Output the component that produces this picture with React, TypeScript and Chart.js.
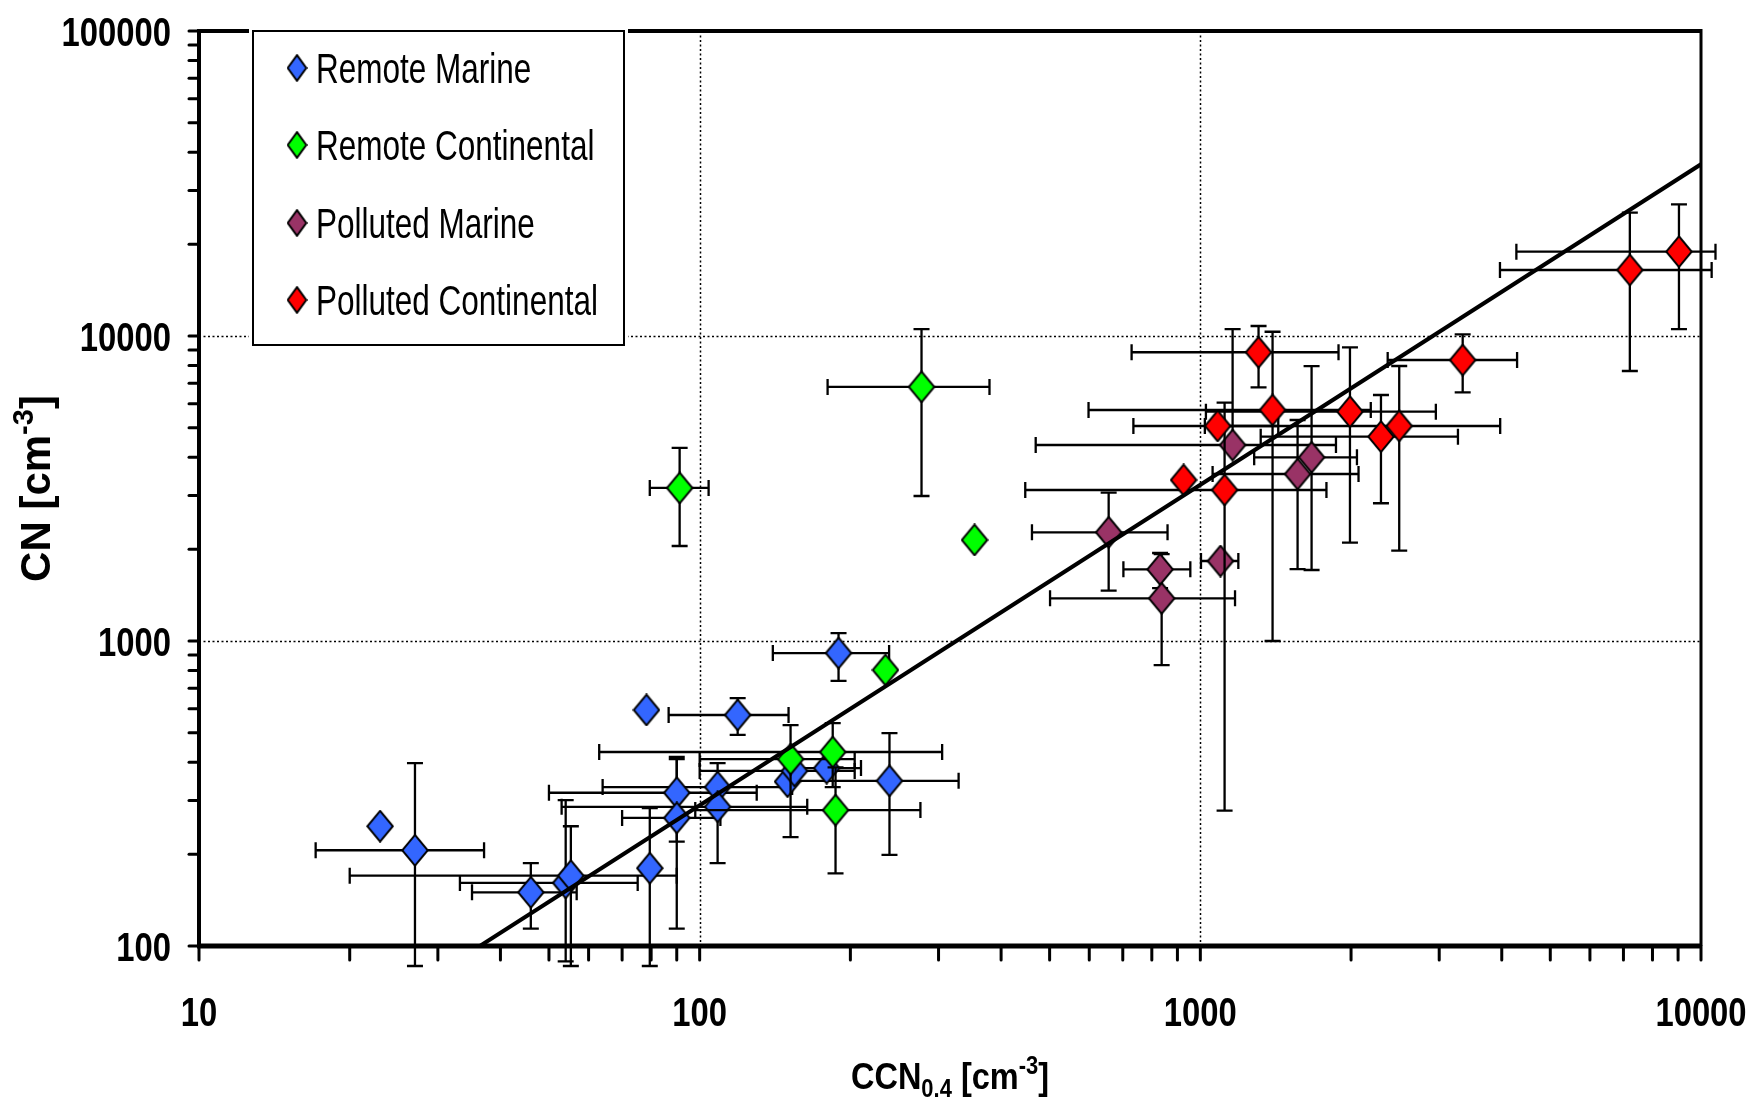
import React, { useEffect, useRef } from 'react';
import { Chart, registerables } from 'chart.js';

Chart.register(...registerables);

const CANVAS_W = 1753;
const CANVAS_H = 1104;

const seriesNames = ['Remote Marine', 'Remote Continental', 'Polluted Marine', 'Polluted Continental'];
const seriesColors = ['#3366FF', '#00FF00', '#993366', '#FF0000'];

// Remote Marine
const rmX = [23.0, 27.0, 46.0, 54.0, 55.3, 79.5, 90.0, 90.0, 108.6, 108.6, 119.1, 78.3, 149.8, 154.7, 179.3, 239.4, 189.4];
const rmY = [247, 206, 150, 161, 170, 180, 318, 263, 332, 286, 572, 594, 346, 375, 383, 348, 913];
const rmXLo = [null, 17.1, 35.1, 33.2, 20.0, null, 50, 70, 64, 53, 86.7, null, null, 100, 148, 150, 140];
const rmXHi = [null, 37.1, 56.8, 75.2, 90.0, null, 130, 110, 153, 164, 150.5, null, null, 204, 210, 329, 239];
const rmYLo = [null, 86, 114, 89, 86, 86, 220, 114, null, 187, 492, null, null, null, null, 199, 740];
const rmYHi = [null, 398, 187, 301, 247, 283, 417, 410, null, 398, 650, null, null, null, null, 499, 1062];

// Remote Continental
const rcX = [91.2, 277.4, 354, 235, 151.9, 184.4, 186.8];
const rcY = [3175, 6808, 2144, 803.5, 410, 432.5, 279];
const rcXLo = [79.5, 180.1, null, null, 100, 63, 98];
const rcXHi = [104.2, 379.2, null, null, 204, 305, 276];
const rcYLo = [2049, 2988, null, null, 227.5, 332, 173];
const rcYHi = [4295, 10540, null, null, 530, 538, 385];

// Polluted Marine
const pmX = [656, 831, 837, 1097, 1160, 1668, 1564];
const pmY = [2272, 1718, 1380, 1829, 4391, 4002, 3528];
const pmXLo = [461, 702, 501, 1003, 469, 1281, 1058];
const pmXHi = [860, 955, 1173, 1191, 1866, 2055, 2070];
const pmYLo = [1462, 1490, 834, null, null, 1709, 1720];
const pmYHi = [3064, 1943, 1926, null, 10540, 7970, 5304];

// Polluted Continental
const pcX = [1307, 1394, 1083, 926, 1118, 1990, 2295, 2496, 3342, 7209, 9036];
const pcY = [8844, 5720, 5069, 3372, 3127, 5647, 4677, 5069, 8342, 16460, 18900];
const pcXLo = [729, 598, 735, null, 447, 1026, 1320, 1021, 2367, 3967, 4278];
const pcXHi = [1888, 2190, 1431, null, 1786, 2954, 3270, 3971, 4292, 10502, 10689];
const pcYLo = [6788, 1000, null, null, 278, 2101, 2829, 1977, 6537, 7677, 10540];
const pcYHi = [10786, 10326, null, null, 6044, 9183, 6406, 7972, 10129, 25370, 27030];

// Regression line end points
const fitX = [36.4, 10000];
const fitY = [100, 36560];

const xTickValues = [10, 100, 1000, 10000];
const xTickLabels = ['10', '100', '1000', '10000'];
const yTickValues = [100, 1000, 10000, 100000];
const yTickLabels = ['100', '1000', '10000', '100000'];
const minorMultipliers = [2, 3, 4, 5, 6, 7, 8, 9];

type Series = {
  name: string; color: string;
  x: number[]; y: number[];
  xLo: (number | null)[]; xHi: (number | null)[];
  yLo: (number | null)[]; yHi: (number | null)[];
};

const series: Series[] = [
  { name: seriesNames[0], color: seriesColors[0], x: rmX, y: rmY, xLo: rmXLo, xHi: rmXHi, yLo: rmYLo, yHi: rmYHi },
  { name: seriesNames[1], color: seriesColors[1], x: rcX, y: rcY, xLo: rcXLo, xHi: rcXHi, yLo: rcYLo, yHi: rcYHi },
  { name: seriesNames[2], color: seriesColors[2], x: pmX, y: pmY, xLo: pmXLo, xHi: pmXHi, yLo: pmYLo, yHi: pmYHi },
  { name: seriesNames[3], color: seriesColors[3], x: pcX, y: pcY, xLo: pcXLo, xHi: pcXHi, yLo: pcYLo, yHi: pcYHi },
];

function makeDiamond(color: string, w: number, h: number): HTMLCanvasElement {
  const c = document.createElement('canvas');
  c.width = w;
  c.height = h;
  const ctx = c.getContext('2d')!;
  ctx.beginPath();
  ctx.moveTo(w / 2, 1.2);
  ctx.lineTo(w - 1.2, h / 2);
  ctx.lineTo(w / 2, h - 1.2);
  ctx.lineTo(1.2, h / 2);
  ctx.closePath();
  ctx.fillStyle = color;
  ctx.fill();
  ctx.lineWidth = 2;
  ctx.strokeStyle = '#000';
  ctx.lineJoin = 'miter';
  ctx.stroke();
  return c;
}

const SANS = '"Liberation Sans", Arial, "DejaVu Sans", sans-serif';

function drawScaledText(ctx: CanvasRenderingContext2D, text: string, x: number, y: number, font: string, sx: number, align: 'left' | 'right' | 'center') {
  ctx.save();
  ctx.font = font;
  const w = ctx.measureText(text).width * sx;
  let left = x;
  if (align === 'right') left = x - w;
  else if (align === 'center') left = x - w / 2;
  ctx.translate(left, y);
  ctx.scale(sx, 1);
  ctx.textAlign = 'left';
  ctx.textBaseline = 'alphabetic';
  ctx.fillText(text, 0, 0);
  ctx.restore();
}

type Seg = { t: string; kind: 'n' | 'sub' | 'sup' };

function drawRich(ctx: CanvasRenderingContext2D, segs: Seg[], cx: number, baseY: number, size: number, targetW: number | null) {
  const fontFor = (k: string) => `bold ${k === 'n' ? size : Math.round(size * 0.68)}px ${SANS}`;
  let total = 0;
  const widths = segs.map((s) => {
    ctx.font = fontFor(s.kind);
    const w = ctx.measureText(s.t).width;
    total += w;
    return w;
  });
  const sx = targetW ? targetW / total : 1;
  ctx.save();
  ctx.translate(cx - (total * sx) / 2, baseY);
  ctx.scale(sx, 1);
  ctx.fillStyle = '#000';
  ctx.textBaseline = 'alphabetic';
  ctx.textAlign = 'left';
  let x = 0;
  segs.forEach((s, i) => {
    ctx.font = fontFor(s.kind);
    const dy = s.kind === 'sub' ? size * 0.22 : s.kind === 'sup' ? -size * 0.4 : 0;
    ctx.fillText(s.t, x, dy);
    x += widths[i];
  });
  ctx.restore();
}

export default function App() {
  const canvasRef = useRef<HTMLCanvasElement | null>(null);

  useEffect(() => {
    const canvas = canvasRef.current;
    if (!canvas) return;
    const markers = seriesColors.map((c) => makeDiamond(c, 28, 33));
    const legendMarkers = seriesColors.map((c) => makeDiamond(c, 21, 28));

    const errorBarPlugin = {
      id: 'errorBars',
      beforeDatasetDraw(chart: any, args: any) {
        const idx = args.index;
        if (idx >= series.length) return;
        const s = series[idx];
        const xs = chart.scales.x;
        const ys = chart.scales.y;
        const ctx: CanvasRenderingContext2D = chart.ctx;
        ctx.save();
        ctx.strokeStyle = '#000';
        ctx.lineWidth = 2.3;
        ctx.lineCap = 'butt';
        const cap = 8;
        s.x.forEach((xv, j) => {
          const px = xs.getPixelForValue(xv);
          const py = ys.getPixelForValue(s.y[j]);
          const xl = s.xLo[j], xh = s.xHi[j], yl = s.yLo[j], yh = s.yHi[j];
          if (xl != null || xh != null) {
            const a = xl != null ? xs.getPixelForValue(xl) : px;
            const b = xh != null ? xs.getPixelForValue(xh) : px;
            ctx.beginPath();
            ctx.moveTo(a, py); ctx.lineTo(b, py);
            if (xl != null) { ctx.moveTo(a, py - cap); ctx.lineTo(a, py + cap); }
            if (xh != null) { ctx.moveTo(b, py - cap); ctx.lineTo(b, py + cap); }
            ctx.stroke();
          }
          if (yl != null || yh != null) {
            const a = yl != null ? ys.getPixelForValue(yl) : py;
            const b = yh != null ? ys.getPixelForValue(yh) : py;
            ctx.beginPath();
            ctx.moveTo(px, a); ctx.lineTo(px, b);
            if (yl != null) { ctx.moveTo(px - cap, a); ctx.lineTo(px + cap, a); }
            if (yh != null) { ctx.moveTo(px - cap, b); ctx.lineTo(px + cap, b); }
            ctx.stroke();
          }
        });
        ctx.restore();
      },
    };

    const backgroundPlugin = {
      id: 'bgGrid',
      beforeDraw(chart: any) {
        const ctx: CanvasRenderingContext2D = chart.ctx;
        const { left, right, top, bottom } = chart.chartArea;
        const xs = chart.scales.x;
        const ys = chart.scales.y;
        ctx.save();
        ctx.fillStyle = '#fff';
        ctx.fillRect(0, 0, chart.width, chart.height);
        ctx.strokeStyle = '#000';
        ctx.lineWidth = 1.5;
        ctx.setLineDash([2, 2.5]);
        xTickValues.slice(1, -1).forEach((v) => {
          const px = Math.round(xs.getPixelForValue(v)) + 0.5;
          ctx.beginPath(); ctx.moveTo(px, top); ctx.lineTo(px, bottom); ctx.stroke();
        });
        yTickValues.slice(1, -1).forEach((v) => {
          const py = Math.round(ys.getPixelForValue(v)) + 0.5;
          ctx.beginPath(); ctx.moveTo(left, py); ctx.lineTo(right, py); ctx.stroke();
        });
        ctx.restore();
      },
    };

    const framePlugin = {
      id: 'frame',
      afterDraw(chart: any) {
        const ctx: CanvasRenderingContext2D = chart.ctx;
        const { left, right, top, bottom } = chart.chartArea;
        const xs = chart.scales.x;
        const ys = chart.scales.y;
        ctx.save();
        ctx.strokeStyle = '#000';
        ctx.lineCap = 'butt';
        // frame
        ctx.lineWidth = 4;
        ctx.beginPath(); ctx.moveTo(left - 2, top); ctx.lineTo(right + 1, top); ctx.stroke();
        ctx.beginPath(); ctx.moveTo(left, top - 2); ctx.lineTo(left, bottom + 2); ctx.stroke();
        ctx.lineWidth = 3;
        ctx.beginPath(); ctx.moveTo(right, top - 2); ctx.lineTo(right, bottom); ctx.stroke();
        ctx.lineWidth = 5;
        ctx.beginPath(); ctx.moveTo(left - 2, bottom); ctx.lineTo(right + 1, bottom); ctx.stroke();

        // tick marks
        ctx.lineWidth = 3;
        ctx.lineCap = 'round';
        const ticksFor = (majors: number[]) => {
          const out: number[] = [];
          majors.forEach((m, i) => {
            out.push(m);
            if (i < majors.length - 1) minorMultipliers.forEach((k) => out.push(m * k));
          });
          return out;
        };
        ticksFor(yTickValues).forEach((v) => {
          const py = ys.getPixelForValue(v);
          ctx.beginPath(); ctx.moveTo(left - 10, py); ctx.lineTo(left, py); ctx.stroke();
        });
        ticksFor(xTickValues).forEach((v) => {
          const px = xs.getPixelForValue(v);
          ctx.beginPath(); ctx.moveTo(px, bottom); ctx.lineTo(px, bottom + 14); ctx.stroke();
        });

        // tick labels
        ctx.fillStyle = '#000';
        const tickFont = `bold 41px ${SANS}`;
        yTickValues.forEach((v, i) => {
          const py = ys.getPixelForValue(v);
          drawScaledText(ctx, yTickLabels[i], left - 28, py + 15, tickFont, 0.8, 'right');
        });
        xTickValues.forEach((v, i) => {
          const px = xs.getPixelForValue(v);
          drawScaledText(ctx, xTickLabels[i], px, bottom + 80, tickFont, 0.8, 'center');
        });

        // axis titles
        drawRich(ctx, [
          { t: 'CCN', kind: 'n' }, { t: '0.4', kind: 'sub' }, { t: ' [cm', kind: 'n' }, { t: '-3', kind: 'sup' }, { t: ']', kind: 'n' },
        ], (left + right) / 2, 1089, 37, 198);
        ctx.save();
        ctx.translate(50, (top + bottom) / 2);
        ctx.rotate(-Math.PI / 2);
        drawRich(ctx, [
          { t: 'CN [cm', kind: 'n' }, { t: '-3', kind: 'sup' }, { t: ']', kind: 'n' },
        ], 0, 0, 42, null);
        ctx.restore();

        // legend
        const lx = 253, ly = top, lw = 371, lh = 314;
        ctx.fillStyle = '#fff';
        ctx.fillRect(lx - 4, ly - 4, lw + 8, lh + 4);
        ctx.lineWidth = 2;
        ctx.lineCap = 'butt';
        ctx.strokeRect(lx, ly, lw, lh);
        const rowY = [68, 145, 223, 300];
        series.forEach((s, i) => {
          const m = legendMarkers[i];
          ctx.drawImage(m, 297 - m.width / 2, rowY[i] - m.height / 2);
          ctx.fillStyle = '#000';
          drawScaledText(ctx, s.name, 316, rowY[i] + 15, `42px ${SANS}`, 0.75, 'left');
        });
        ctx.restore();
      },
    };

    const datasets: any[] = series.map((s, i) => ({
      type: 'scatter',
      label: s.name,
      data: s.x.map((v, j) => ({ x: v, y: s.y[j] })),
      pointStyle: markers[i],
      pointRadius: 14,
      order: series.length - i,
      clip: false,
    }));
    datasets.push({
      type: 'line',
      label: 'fit',
      data: fitX.map((v, j) => ({ x: v, y: fitY[j] })),
      borderColor: '#000',
      borderWidth: 4,
      pointRadius: 0,
      fill: false,
      tension: 0,
      order: 0,
    });

    const chart = new Chart(canvas, {
      type: 'scatter',
      data: { datasets },
      options: {
        responsive: false,
        animation: false,
        devicePixelRatio: 1,
        events: [],
        layout: { padding: { left: 199, right: 52, top: 31, bottom: 158 } },
        scales: {
          x: { type: 'logarithmic', min: 10, max: 10000, display: false },
          y: { type: 'logarithmic', min: 100, max: 100000, display: false },
        },
        plugins: { legend: { display: false }, tooltip: { enabled: false } },
      },
      plugins: [backgroundPlugin, errorBarPlugin, framePlugin],
    } as any);

    return () => chart.destroy();
  }, []);

  return (
    <div style={{ position: 'fixed', left: 0, top: 0, width: CANVAS_W, height: CANVAS_H, background: '#fff' }}>
      <canvas ref={canvasRef} width={CANVAS_W} height={CANVAS_H} style={{ display: 'block', width: CANVAS_W, height: CANVAS_H }} />
    </div>
  );
}
